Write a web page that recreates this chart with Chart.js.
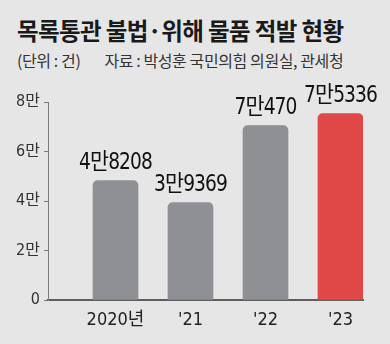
<!DOCTYPE html>
<html>
<head>
<meta charset="utf-8">
<script src="https://cdn.jsdelivr.net/npm/chart.js@4/dist/chart.umd.min.js"></script>
<style>
  html, body { margin: 0; padding: 0; }
  #wrap { position: relative; width: 390px; height: 344px; background: #e6e6e7; overflow: hidden; }
  #title { position: absolute; left: 17px; top: 13px; font: bold 23.5px 'Noto Sans CJK KR', sans-serif; color: #1a1a1a; letter-spacing: -0.6px; white-space: nowrap; }
  #sub { position: absolute; left: 17px; top: 48px; font: 16px 'Noto Sans CJK KR', sans-serif; color: #333; letter-spacing: -0.4px; white-space: nowrap; }
  #sub span { margin-left: 24px; }
  canvas { position: absolute; left: 0; top: 0; }
</style>
</head>
<body>
<div id="wrap">
  <div id="title">목록통관 불법·위해 물품 적발 현황</div>
  <div id="sub">(단위 : 건)<span>자료 : 박성훈 국민의힘 의원실, 관세청</span></div>
  <canvas id="chart" width="390" height="344"></canvas>
</div>
<script>
const years = ['2020년', "'21", "'22", "'23"]
const counts = [48208, 39369, 70470, 75336]
const barColors = ['#8f9094', '#8f9094', '#8f9094', '#e04747']
const yTicks = [0, 20000, 40000, 60000, 80000]

const narrow = "'Liberation Sans Narrow', 'DejaVu Sans Condensed', 'Noto Sans CJK KR', sans-serif"

const manFormat = v => {
    const man = Math.floor(v / 10000)
    const rest = v % 10000
    return man > 0 ? man + '만' + (rest > 0 ? rest : '') : String(rest)
}

// value labels above each bar, a bit condensed like the print font
const valueLabels = {
    id: 'valueLabels',
    afterDatasetsDraw(chart) {
        const ctx = chart.ctx
        const meta = chart.getDatasetMeta(0)
        meta.data.forEach((bar, i) => {
            ctx.save()
            ctx.translate(bar.x, bar.y - 6)
            ctx.scale(0.9, 1)
            ctx.font = '23px ' + narrow
            ctx.letterSpacing = '-1px'
            ctx.fillStyle = '#111'
            ctx.textAlign = 'center'
            ctx.textBaseline = 'bottom'
            ctx.fillText(manFormat(counts[i]), 0, 0)
            ctx.restore()
        })
    }
}

const data = {
    datasets: [{
        data: counts.map((c, i) => ({ x: i, y: c })),
        backgroundColor: barColors,
        barThickness: 45,
        borderRadius: { topLeft: 5, topRight: 5 },
        borderSkipped: 'bottom'
    }]
}

const options = {
    responsive: false,
    animation: false,
    layout: { padding: { top: 102, right: 27, bottom: 16, left: 0 } },
    plugins: {
        legend: { display: false },
        tooltip: { enabled: false }
    },
    scales: {
        x: {
            type: 'linear',
            offset: false,
            min: -0.9,
            max: 3.3,
            afterBuildTicks: s => { s.ticks = years.map((_, i) => ({ value: i })) },
            afterFit: s => { s.height = 28 },
            grid: { display: false, drawTicks: false, offset: false },
            border: { color: '#5e5e5e', width: 2 },
            ticks: {
                padding: 10,
                color: '#222',
                font: { family: narrow, size: 18 },
                callback: v => years[v] ?? ''
            }
        },
        y: {
            min: 0,
            max: 80000,
            afterBuildTicks: s => { s.ticks = yTicks.map(v => ({ value: v })) },
            afterFit: s => { s.width = 48 },
            grid: { drawOnChartArea: false, tickLength: 4, color: '#7a7a7a' },
            border: { color: '#7a7a7a', width: 1 },
            ticks: {
                padding: 4,
                color: '#333',
                font: { family: narrow, size: 16 },
                callback: v => v === 0 ? '0' : (v / 10000) + '만'
            }
        }
    }
}

new Chart('chart', { type: 'bar', data, options, plugins: [valueLabels] })
</script>
</body>
</html>
